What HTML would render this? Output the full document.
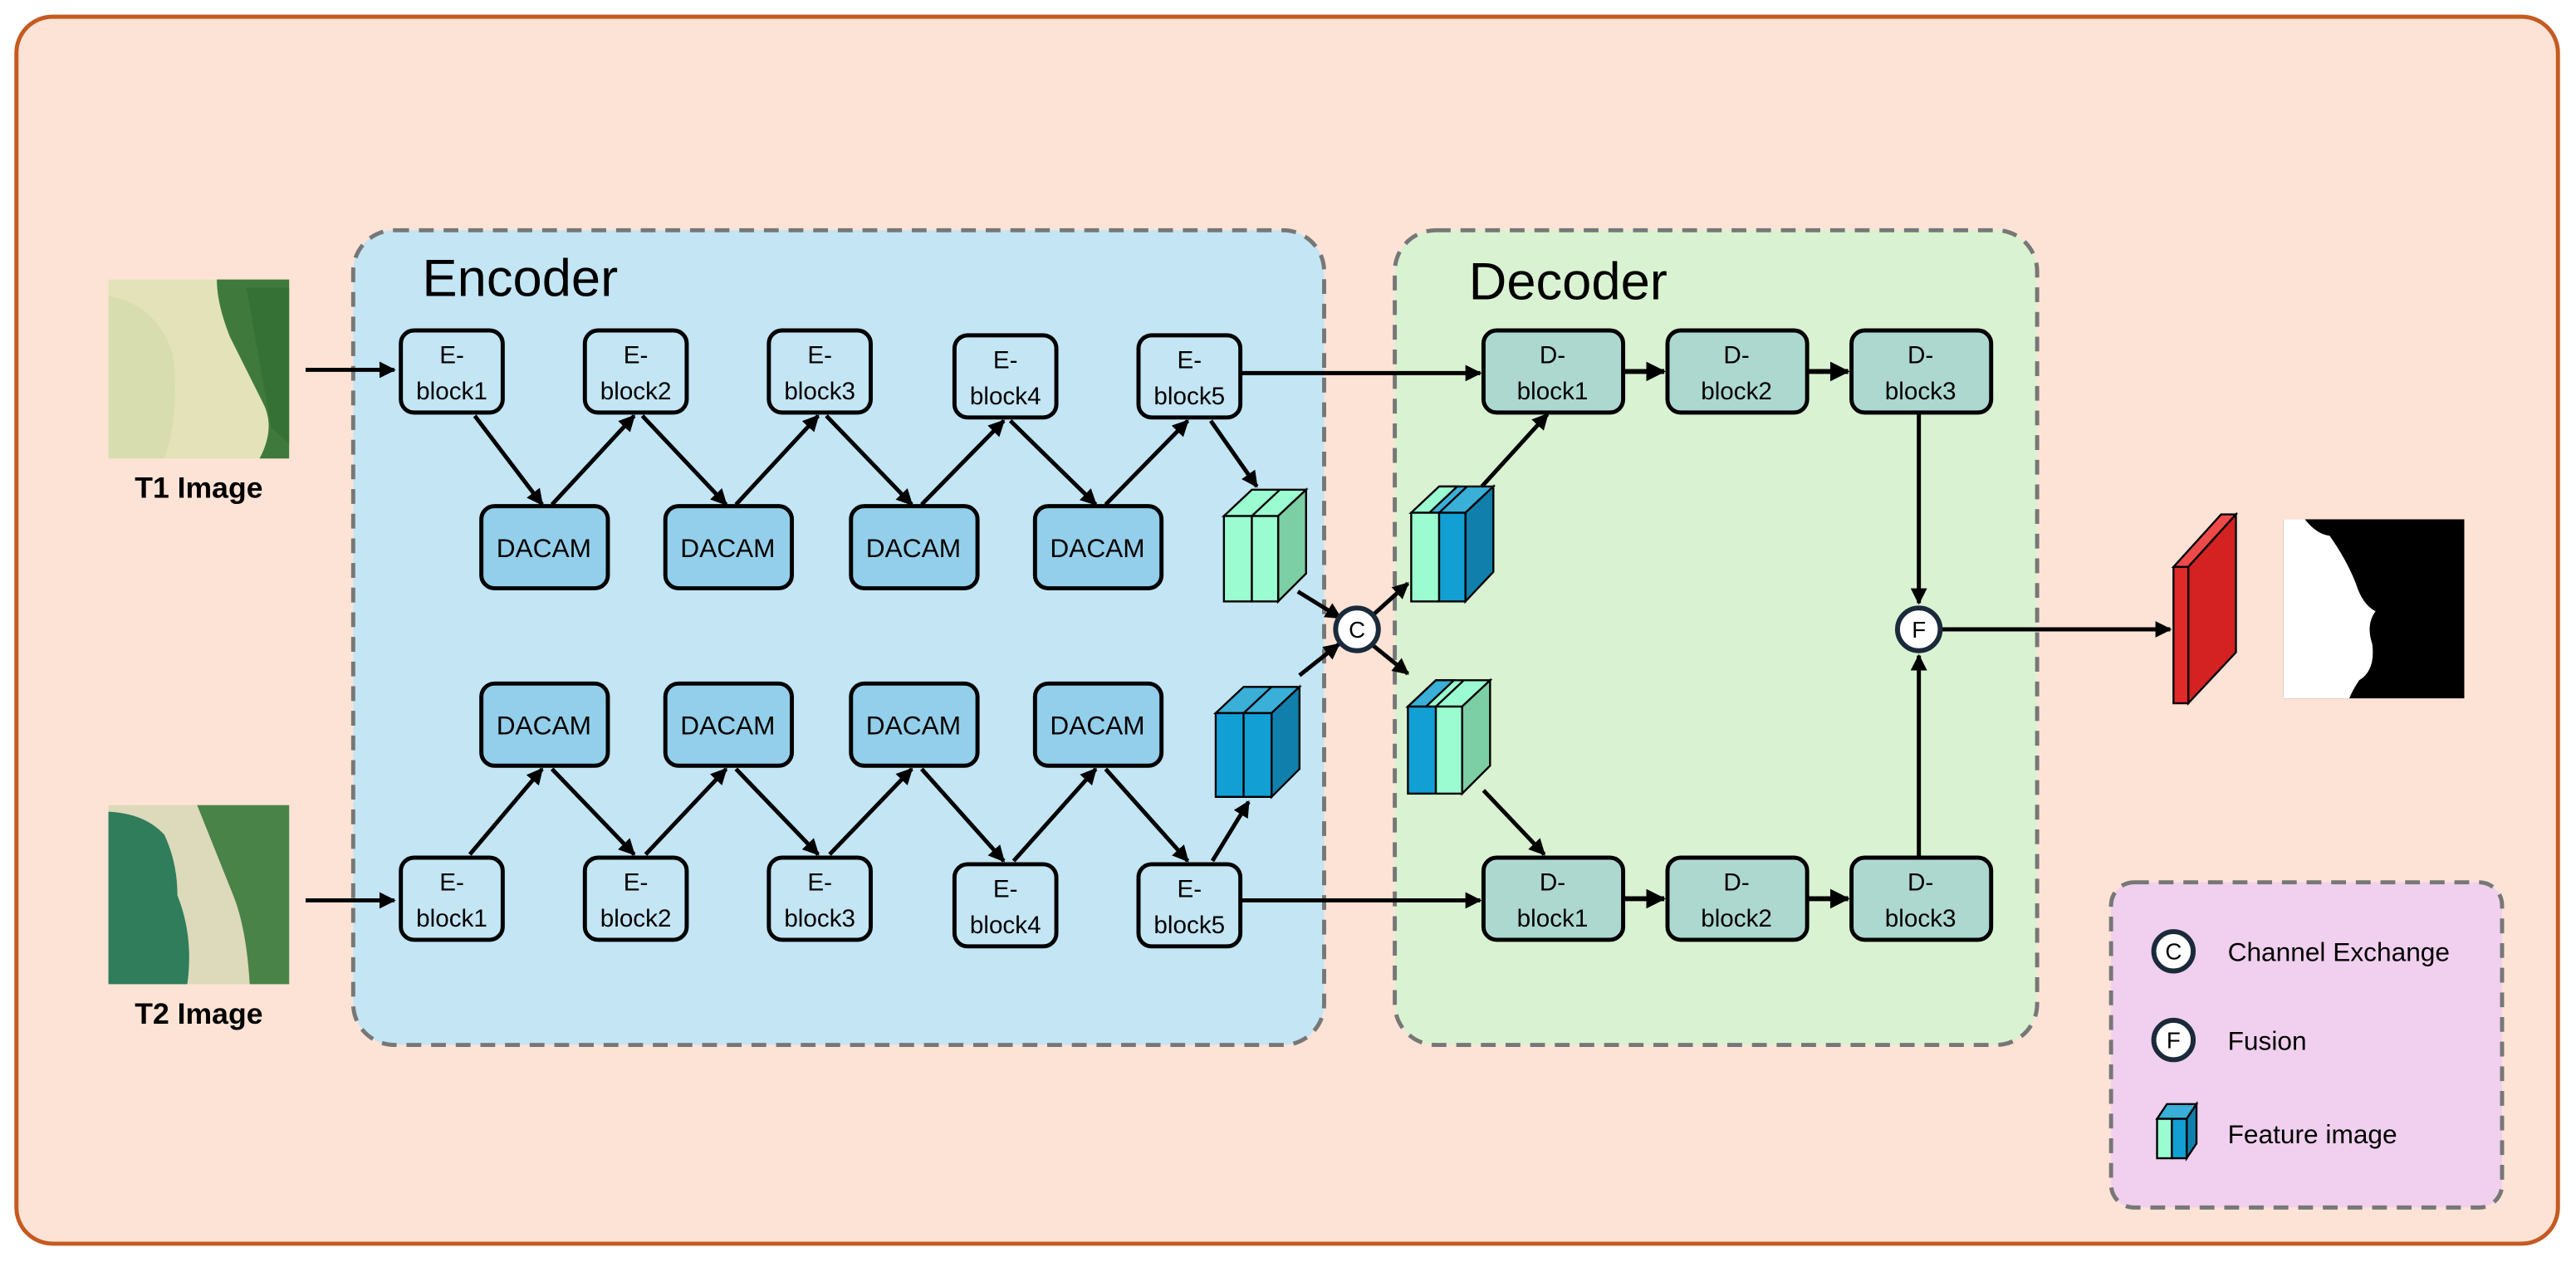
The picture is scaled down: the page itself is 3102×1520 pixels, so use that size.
<!DOCTYPE html>
<html><head><meta charset="utf-8"><style>
html,body{margin:0;padding:0;background:#fff;}
svg{display:block;}
text{font-family:"Liberation Sans",sans-serif;}
</style></head><body>
<svg width="3102" height="1520" viewBox="0 0 1568 768" xmlns="http://www.w3.org/2000/svg">
<defs>
<marker id="ah" markerWidth="10" markerHeight="10" refX="9" refY="5" orient="auto" markerUnits="userSpaceOnUse">
<path d="M0,0 L10,5 L0,10 Z" fill="#000"/></marker>
<marker id="ahb" markerWidth="12" markerHeight="12" refX="11" refY="6" orient="auto" markerUnits="userSpaceOnUse">
<path d="M0,0 L12,6 L0,12 Z" fill="#000"/></marker>
</defs>
<rect x="0" y="0" width="1568" height="768" fill="#fff"/>
<rect x="10" y="10" width="1547" height="747" rx="22" fill="#fde3d6" stroke="#c55a21" stroke-width="2.5"/>
<rect x="215" y="140" width="591" height="496" rx="25" fill="#c3e5f4" stroke="#777" stroke-width="2.5" stroke-dasharray="9,6"/>
<rect x="849" y="140" width="391" height="496" rx="25" fill="#d9f2d1" stroke="#777" stroke-width="2.5" stroke-dasharray="9,6"/>
<rect x="1285" y="537" width="238" height="198" rx="14" fill="#f0d0ee" stroke="#777" stroke-width="2.5" stroke-dasharray="9,6"/>
<text x="257" y="180" font-size="32">Encoder</text>
<text x="894" y="182" font-size="32">Decoder</text>

<!-- T1 image -->
<rect x="66" y="170" width="110" height="109" fill="#e3e2b8"/>
<path d="M66,180 Q95,185 105,215 Q110,250 100,279 L66,279 Z" fill="#d8ddaf"/>
<path d="M132,170 L176,170 L176,279 L158,279 Q168,260 160,245 Q150,225 140,205 Q132,185 132,170 Z" fill="#3f7a3c"/>
<path d="M150,175 L176,175 L176,270 L165,260 Z" fill="#2f6a30" opacity="0.6"/>
<text x="121" y="303" font-size="18" font-weight="bold" text-anchor="middle">T1 Image</text>
<!-- T2 image -->
<rect x="66" y="490" width="110" height="109" fill="#ddd9bb"/>
<path d="M66,494 Q88,495 100,508 Q108,525 108,545 Q118,570 114,599 L66,599 Z" fill="#2f7d5a"/>
<path d="M120,490 L176,490 L176,599 L152,599 Q150,565 142,545 Q130,515 120,490 Z" fill="#4a8347"/>
<text x="121" y="623" font-size="18" font-weight="bold" text-anchor="middle">T2 Image</text>

<g stroke="#000" stroke-width="2.5" fill="none">
<line x1="186" y1="225" x2="240" y2="225" marker-end="url(#ah)"/>
<line x1="186" y1="548" x2="240" y2="548" marker-end="url(#ah)"/>
</g>

<!-- blocks -->
<g stroke="#000" stroke-width="2.5">
<g fill="#c3e5f4">
<rect x="244" y="201" width="62" height="50" rx="8"/>
<rect x="356" y="201" width="62" height="50" rx="8"/>
<rect x="468" y="201" width="62" height="50" rx="8"/>
<rect x="581" y="204" width="62" height="50" rx="8"/>
<rect x="693" y="204" width="62" height="50" rx="8"/>
<rect x="244" y="522" width="62" height="50" rx="8"/>
<rect x="356" y="522" width="62" height="50" rx="8"/>
<rect x="468" y="522" width="62" height="50" rx="8"/>
<rect x="581" y="526" width="62" height="50" rx="8"/>
<rect x="693" y="526" width="62" height="50" rx="8"/>
</g>
<g fill="#93cfea">
<rect x="293" y="308" width="77" height="50" rx="8"/>
<rect x="405" y="308" width="77" height="50" rx="8"/>
<rect x="518" y="308" width="77" height="50" rx="8"/>
<rect x="630" y="308" width="77" height="50" rx="8"/>
<rect x="293" y="416" width="77" height="50" rx="8"/>
<rect x="405" y="416" width="77" height="50" rx="8"/>
<rect x="518" y="416" width="77" height="50" rx="8"/>
<rect x="630" y="416" width="77" height="50" rx="8"/>
</g>
<g fill="#acd8cf">
<rect x="903" y="201" width="85" height="50" rx="8"/>
<rect x="1015" y="201" width="85" height="50" rx="8"/>
<rect x="1127" y="201" width="85" height="50" rx="8"/>
<rect x="903" y="522" width="85" height="50" rx="8"/>
<rect x="1015" y="522" width="85" height="50" rx="8"/>
<rect x="1127" y="522" width="85" height="50" rx="8"/>
</g>
</g>
<g font-size="15" text-anchor="middle">
<text x="275" y="221">E-</text><text x="275" y="243">block1</text>
<text x="387" y="221">E-</text><text x="387" y="243">block2</text>
<text x="499" y="221">E-</text><text x="499" y="243">block3</text>
<text x="612" y="224">E-</text><text x="612" y="246">block4</text>
<text x="724" y="224">E-</text><text x="724" y="246">block5</text>
<text x="275" y="542">E-</text><text x="275" y="564">block1</text>
<text x="387" y="542">E-</text><text x="387" y="564">block2</text>
<text x="499" y="542">E-</text><text x="499" y="564">block3</text>
<text x="612" y="546">E-</text><text x="612" y="568">block4</text>
<text x="724" y="546">E-</text><text x="724" y="568">block5</text>
<text x="945" y="221">D-</text><text x="945" y="243">block1</text>
<text x="1057" y="221">D-</text><text x="1057" y="243">block2</text>
<text x="1169" y="221">D-</text><text x="1169" y="243">block3</text>
<text x="945" y="542">D-</text><text x="945" y="564">block1</text>
<text x="1057" y="542">D-</text><text x="1057" y="564">block2</text>
<text x="1169" y="542">D-</text><text x="1169" y="564">block3</text>
</g>
<g font-size="16" text-anchor="middle">
<text x="331" y="339">DACAM</text><text x="443" y="339">DACAM</text><text x="556" y="339">DACAM</text><text x="668" y="339">DACAM</text>
<text x="331" y="447">DACAM</text><text x="443" y="447">DACAM</text><text x="556" y="447">DACAM</text><text x="668" y="447">DACAM</text>
</g>

<!-- arrows -->
<g stroke="#000" stroke-width="2.5" fill="none" marker-end="url(#ah)">
<line x1="289" y1="253" x2="330" y2="307"/>
<line x1="336" y1="307" x2="386" y2="253"/>
<line x1="391" y1="253" x2="442" y2="307"/>
<line x1="448" y1="307" x2="498" y2="253"/>
<line x1="503" y1="253" x2="555" y2="307"/>
<line x1="561" y1="307" x2="611" y2="256"/>
<line x1="615" y1="256" x2="667" y2="307"/>
<line x1="673" y1="307" x2="723" y2="256"/>
<line x1="737" y1="256" x2="765" y2="296"/>
<line x1="286" y1="520" x2="330" y2="468"/>
<line x1="336" y1="468" x2="386" y2="520"/>
<line x1="393" y1="520" x2="442" y2="468"/>
<line x1="448" y1="468" x2="498" y2="520"/>
<line x1="505" y1="520" x2="555" y2="468"/>
<line x1="561" y1="468" x2="611" y2="524"/>
<line x1="617" y1="524" x2="667" y2="468"/>
<line x1="673" y1="468" x2="723" y2="524"/>
<line x1="738" y1="524" x2="760" y2="488"/>
<line x1="790" y1="360" x2="816" y2="376"/>
<line x1="791" y1="411" x2="815" y2="392"/>
<line x1="836" y1="374" x2="857" y2="355"/>
<line x1="836" y1="393" x2="857" y2="410"/>
<line x1="902" y1="296" x2="942" y2="252"/>
<line x1="903" y1="481" x2="940" y2="520"/>
<line x1="755" y1="227" x2="901" y2="227"/>
<line x1="755" y1="548" x2="901" y2="548"/>
<line x1="1168" y1="252" x2="1168" y2="367"/>
<line x1="1168" y1="521" x2="1168" y2="399"/>
<line x1="1182" y1="383" x2="1321" y2="383"/>
</g>
<g stroke="#000" stroke-width="3" fill="none" marker-end="url(#ahb)">
<line x1="988" y1="226" x2="1013" y2="226"/>
<line x1="1100" y1="226" x2="1125" y2="226"/>
<line x1="988" y1="547" x2="1013" y2="547"/>
<line x1="1100" y1="547" x2="1125" y2="547"/>
</g>

<!-- cubes -->
<g stroke="#000" stroke-width="1.2">
<polygon points="745,314 762,298 795,298 778,314" fill="#9bfcd1"/>
<line x1="762" y1="314" x2="779" y2="298"/>
<polygon points="778,314 795,298 795,349 778,366" fill="#7ccfa5"/>
<rect x="745" y="314" width="17" height="52" fill="#9bfcd1"/><rect x="762" y="314" width="16" height="52" fill="#9bfcd1"/>
<polygon points="740,434 757,418 791,418 774,434" fill="#3aafd8"/>
<line x1="757" y1="434" x2="774" y2="418"/>
<polygon points="774,434 791,418 791,468 774,485" fill="#117fab"/>
<rect x="740" y="434" width="17" height="51" fill="#129fd4"/><rect x="757" y="434" width="17" height="51" fill="#129fd4"/>
<polygon points="859,312 876,296 909,296 892,312" fill="#3aafd8"/>
<polygon points="859,312 876,296 887,296 870,312" fill="#9bfcd1"/>
<line x1="876" y1="312" x2="893" y2="296"/>
<polygon points="892,312 909,296 909,348 892,366" fill="#117fab"/>
<rect x="859" y="312" width="17" height="54" fill="#9bfcd1"/><rect x="876" y="312" width="16" height="54" fill="#129fd4"/>
<polygon points="857,430 874,414 907,414 890,430" fill="#9bfcd1"/>
<polygon points="857,430 874,414 885,414 868,430" fill="#3aafd8"/>
<line x1="874" y1="430" x2="891" y2="414"/>
<polygon points="890,430 907,414 907,466 890,483" fill="#7ccfa5"/>
<rect x="857" y="430" width="17" height="53" fill="#129fd4"/><rect x="874" y="430" width="16" height="53" fill="#9bfcd1"/>
<polygon points="1313,681 1319,672 1337,672 1331,681" fill="#3aafd8"/>
<polygon points="1331,681 1337,672 1337,696 1331,705" fill="#117fab"/>
<rect x="1313" y="681" width="9" height="24" fill="#9bfcd1"/><rect x="1322" y="681" width="9" height="24" fill="#129fd4"/>
<polygon points="1323,345 1352,313 1361,313 1332,345" fill="#ef4a4a"/>
<polygon points="1332,345 1361,313 1361,397 1332,428" fill="#d42121"/>
<rect x="1323" y="345" width="9" height="83" fill="#e02a2a"/>
</g>

<!-- mask -->
<rect x="1390" y="316" width="110" height="109" fill="#000"/>
<path d="M1390,316 L1403,316 Q1410,325 1418,326 Q1428,340 1434,355 Q1438,368 1446,372 Q1440,380 1444,392 Q1446,408 1436,414 Q1432,420 1430,425 L1390,425 Z" fill="#fff"/>

<g stroke="#1a2a3a" stroke-width="3" fill="#fff">
<circle cx="826" cy="383" r="13"/>
<circle cx="1168" cy="383" r="13"/>
<circle cx="1323" cy="579" r="12"/>
<circle cx="1323" cy="633" r="12"/>
</g>
<g font-size="14" text-anchor="middle">
<text x="826" y="388">C</text><text x="1168" y="388">F</text>
<text x="1323" y="584">C</text><text x="1323" y="638">F</text>
</g>
<g font-size="16">
<text x="1356" y="585">Channel Exchange</text>
<text x="1356" y="639">Fusion</text>
<text x="1356" y="696">Feature image</text>
</g>
</svg>
</body></html>
